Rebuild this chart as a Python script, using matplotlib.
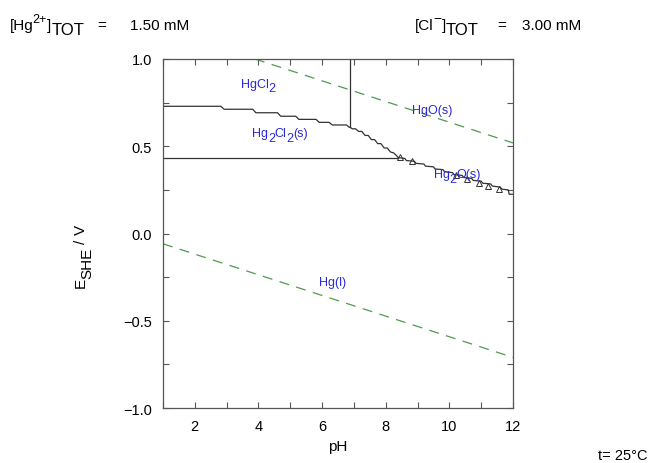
import matplotlib
matplotlib.use("Agg")
import matplotlib.pyplot as plt
from matplotlib.ticker import MultipleLocator

plt.rcParams["font.family"] = ["Liberation Sans", "DejaVu Sans"]

# water stability lines (O2/H2O and H2O/H2)
o2_ph = [3.89, 12.0]
o2_E = [1.0, 0.519]
h2_ph = [1.0, 12.0]
h2_E = [-0.059, -0.710]

# HgCl2 / Hg2Cl2(s) boundary (stepped)
upper_ph = [1.0, 2.82, 2.92, 3.82, 3.92, 4.60, 4.70, 5.17, 5.27, 5.81, 5.91, 6.22, 6.32, 6.77, 6.85, 6.88]
upper_E = [0.729, 0.729, 0.712, 0.712, 0.692, 0.692, 0.672, 0.672, 0.654, 0.654, 0.637, 0.637, 0.622, 0.622, 0.609, 0.609]

# HgCl2 / HgO(s) vertical boundary
vert_ph = [6.88, 6.88]
vert_E = [0.609, 1.0]

# Hg2Cl2(s) / Hg(l) boundary
horiz_ph = [1.0, 8.40]
horiz_E = [0.435, 0.435]

# HgO(s) / Hg2Cl2(s) boundary
diag_ph = [6.88, 6.95, 7.05, 7.15, 7.25, 7.35, 7.45, 7.55, 7.65, 7.75, 7.85, 7.95, 8.05, 8.15, 8.25, 8.40]
diag_E = [0.609, 0.600, 0.600, 0.585, 0.585, 0.562, 0.562, 0.538, 0.538, 0.515, 0.515, 0.490, 0.490, 0.467, 0.462, 0.435]

# HgO(s) / Hg2O(s) boundary
low_ph = [8.40, 8.60, 8.65, 8.90, 8.95, 9.20, 9.25, 9.50, 9.55, 9.80, 9.85, 10.10, 10.15, 10.40,
          10.45, 10.70, 10.75, 11.00, 11.05, 11.30, 11.35, 11.60, 11.65, 11.85, 11.88, 12.0]
low_E = [0.435, 0.430, 0.418, 0.414, 0.402, 0.398, 0.386, 0.382, 0.370, 0.366, 0.354, 0.349, 0.337, 0.333,
         0.321, 0.316, 0.304, 0.300, 0.288, 0.284, 0.272, 0.266, 0.254, 0.250, 0.225, 0.225]

# small triangle artifacts along the lower boundary
tri_ph = [8.45, 8.82, 10.22, 10.55, 10.92, 11.22, 11.55]
tri_E = [0.437, 0.418, 0.333, 0.314, 0.292, 0.274, 0.254]

# region labels: (piece, is_subscript) runs, placed at baseline centre
labels = [
    [("HgCl", 0), ("2", 1)],
    [("HgO(s)", 0)],
    [("Hg", 0), ("2", 1), ("Cl", 0), ("2", 1), ("(s)", 0)],
    [("Hg", 0), ("2", 1), ("O(s)", 0)],
    [("Hg(l)", 0)],
]
label_ph = [3.99, 9.47, 4.68, 10.24, 6.34]
label_E = [0.841, 0.691, 0.557, 0.322, -0.295]


def rich(fig, x, y, parts, color="black", rotation=0, ha="left", kern=0.0):
    """Draw runs of text with baseline shifts, in display pixels.
    parts: (text, fontsize, shift_px, gap_after_px)"""
    r = fig.canvas.get_renderer()
    items = []
    for s, size, shift, gap in parts:
        t = fig.text(0, 0, s, fontsize=size, color=color, transform=None,
                     rotation=rotation, rotation_mode="anchor", ha="left", va="baseline")
        bb = t.get_window_extent(r)
        adv = (bb.height if rotation else bb.width) + gap + kern
        items.append((t, adv, shift))
    total = sum(a for _, a, _ in items) - kern
    pos = x if not rotation else y
    if ha == "center":
        pos -= total / 2
    for t, adv, shift in items:
        if rotation:
            t.set_position((x + shift, pos))
        else:
            t.set_position((pos, y + shift))
        pos += adv


fig = plt.figure(figsize=(6.54, 4.64), dpi=100)
H = 464
ax = fig.add_axes([0.2492, 0.1185, 0.5352, 0.7522])

green = "#4f9a4f"
ax.plot(o2_ph, o2_E, color=green, lw=0.9, dashes=(8, 6))
ax.plot(h2_ph, h2_E, color=green, lw=0.9, dashes=(8, 6))

black = "#333333"
ax.plot(upper_ph, upper_E, color=black, lw=0.9)
ax.plot(vert_ph, vert_E, color=black, lw=0.9)
ax.plot(horiz_ph, horiz_E, color=black, lw=0.9)
ax.plot(diag_ph, diag_E, color=black, lw=0.9)
ax.plot(low_ph, low_E, color=black, lw=0.9)
ax.plot(tri_ph, tri_E, ls="none", marker="^", ms=4, mfc="none", mec=black, mew=0.7)

ax.set_xlim(1, 12)
ax.set_ylim(-1.0, 1.0)
ax.xaxis.set_major_locator(MultipleLocator(2))
ax.xaxis.set_minor_locator(MultipleLocator(1))
ax.yaxis.set_major_locator(MultipleLocator(0.5))
ax.yaxis.set_minor_locator(MultipleLocator(0.25))
ax.yaxis.set_major_formatter(lambda v, p: f"{v:.1f}".replace("-", "\u2212"))
ax.tick_params(which="both", direction="in", top=True, right=True, length=4,
               width=0.8, color="#555555", labelsize=10.5, pad=8)
for sp in ax.spines.values():
    sp.set_color("#555555")
    sp.set_linewidth(0.9)

ax.set_xlabel("pH", fontsize=11)

fig.canvas.draw()

blue = "#2a2ad8"
for runs, x, y in zip(labels, label_ph, label_E):
    px, py = ax.transData.transform((x, y))
    rich(fig, px, py, [(s, 9, -4.5 if sub else 0, 0) for s, sub in runs],
         color=blue, ha="center", kern=-0.3)

# y label  E_SHE / V (rotated)
rich(fig, 85, H - 288, [("E", 11, 0, -1), ("SHE", 11, 6, 4), ("/", 11, 0, 4), ("V", 11, 0, 0)],
     rotation=90)

# header texts
base = H - 30
rich(fig, 10, base, [("[Hg", 11, 0, -1), ("2+", 9, 7, 0), ("]", 11, 0, 0), ("TOT", 12, -5, 0)])
fig.text(97, base, "=", fontsize=11, transform=None, va="baseline")
fig.text(130, base, "1.50 mM", fontsize=11, transform=None, va="baseline")
rich(fig, 415, base, [("[Cl", 11, 0, 0), ("\u2212", 10, 7, 0), ("]", 11, 0, 0), ("TOT", 12, -5, 0)])
fig.text(497, base, "=", fontsize=11, transform=None, va="baseline")
fig.text(522, base, "3.00 mM", fontsize=11, transform=None, va="baseline")
fig.text(598, H - 460, "t= 25°C", fontsize=10.5, transform=None, va="baseline")

fig.savefig("out.png", dpi=100)
